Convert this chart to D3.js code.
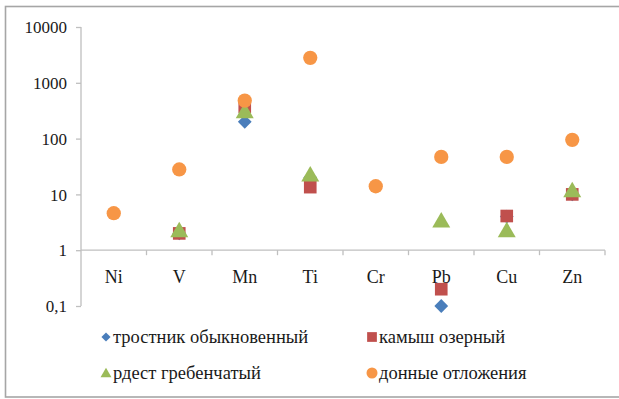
<!DOCTYPE html>
<html>
<head>
<meta charset="utf-8">
<script src="https://cdn.jsdelivr.net/npm/d3@7"></script>
<style>
  html, body { margin: 0; padding: 0; background: #fff; }
  svg { display: block; }
</style>
</head>
<body>
<svg id="chart" width="619" height="399"></svg>
<script>
// Elements on the category axis
const elements = ["Ni", "V", "Mn", "Ti", "Cr", "Pb", "Cu", "Zn"];

// Concentrations per element (null = not measured)
const trostnik = [null, 2.0, 200, 20, null, 0.1, 4.0, 10];
const kamysh   = [null, 2.0, 370, 13.5, null, 0.2, 4.1, 10];
const rdest    = [null, 2.2, 300, 22, null, 3.3, 2.2, 11.5];
const donnye   = [4.6, 28, 480, 2800, 14, 47, 47, 95];

// Y axis tick values and their labels
const yTicks = [0.1, 1, 10, 100, 1000, 10000];
const yTickLabels = ["0,1", "1", "10", "100", "1000", "10000"];

const series = [
  { name: "тростник обыкновенный", values: trostnik, color: "#4a7ebb", shape: "diamond" },
  { name: "камыш озерный", values: kamysh, color: "#c0504d", shape: "square" },
  { name: "рдест гребенчатый", values: rdest, color: "#9bbb59", shape: "triangle" },
  { name: "донные отложения", values: donnye, color: "#f79646", shape: "circle" }
];

const FONT = "'Liberation Serif', 'Times New Roman', 'Liberation Sans', Arial, sans-serif";
const TEXT_COLOR = "#1a1a1a";

const svg = d3.select("#chart");

// Outer frame
svg.append("rect")
  .attr("x", 5.5).attr("y", 6.5)
  .attr("width", 620).attr("height", 390.5)
  .attr("fill", "none").attr("stroke", "#a6a6a6").attr("stroke-width", 1.6);

const x = d3.scaleBand().domain(elements).range([81, 605]).paddingInner(0).paddingOuter(0);
const y = d3.scaleLog().domain([0.1, 10000]).range([306, 27]);

const axisColor = "#bfbfbf";

// Y axis
const yAxis = svg.append("g").attr("transform", "translate(81,0)")
  .call(d3.axisLeft(y).tickValues(yTicks).tickSize(5).tickPadding(9)
    .tickFormat((d, i) => yTickLabels[i]))
  .attr("font-family", FONT);
yAxis.select(".domain").attr("stroke", axisColor).attr("stroke-width", 1.3)
  .attr("d", `M0,${y(0.1)}V${y(10000)}`);
yAxis.selectAll(".tick line").attr("stroke", axisColor).attr("stroke-width", 1.3);
yAxis.selectAll(".tick text").attr("font-size", 17)
  .attr("fill", TEXT_COLOR).attr("dy", "0.34em");

// X axis crossing at 1
const xAxisY = y(1);
svg.append("line")
  .attr("x1", 81).attr("x2", 605).attr("y1", xAxisY).attr("y2", xAxisY)
  .attr("stroke", axisColor).attr("stroke-width", 1.3);
const boundaries = elements.map(e => x(e)).concat([x(elements[elements.length - 1]) + x.bandwidth()]).slice(1);
svg.selectAll(".xtick").data(boundaries).enter().append("line")
  .attr("x1", d => d).attr("x2", d => d)
  .attr("y1", xAxisY).attr("y2", xAxisY + 5)
  .attr("stroke", axisColor).attr("stroke-width", 1.3);
svg.selectAll(".xlabel").data(elements).enter().append("text")
  .attr("x", d => x(d) + x.bandwidth() / 2)
  .attr("y", xAxisY + 33)
  .attr("text-anchor", "middle")
  .attr("font-size", 18)
  .attr("font-family", FONT)
  .attr("fill", TEXT_COLOR)
  .text(d => d);

// Marker path generators
const symbolFor = {
  diamond: d3.symbol().type(d3.symbolSquare).size(95),
  square: d3.symbol().type(d3.symbolSquare).size(160),
  triangle: d3.symbol().type(d3.symbolTriangle).size(140),
  circle: d3.symbol().type(d3.symbolCircle).size(160)
};

function drawMarker(g, shape, color, cx, cy) {
  const p = g.append("path")
    .attr("d", symbolFor[shape]())
    .attr("fill", color);
  if (shape === "diamond") p.attr("transform", `translate(${cx},${cy}) rotate(45)`);
  else if (shape === "triangle") p.attr("transform", `translate(${cx},${cy + 1})`);
  else p.attr("transform", `translate(${cx},${cy})`);
  return p;
}

// Data points
const plot = svg.append("g");
series.forEach(s => {
  const g = plot.append("g");
  s.values.forEach((v, i) => {
    if (v == null) return;
    drawMarker(g, s.shape, s.color, x(elements[i]) + x.bandwidth() / 2, y(v));
  });
});

// Legend
const legendItems = [
  { s: series[0], lx: 106, ly: 337 },
  { s: series[1], lx: 372, ly: 337 },
  { s: series[2], lx: 106, ly: 373 },
  { s: series[3], lx: 372, ly: 373 }
];
const legend = svg.append("g");
legendItems.forEach(it => {
  const small = {
    diamond: d3.symbol().type(d3.symbolSquare).size(42),
    square: d3.symbol().type(d3.symbolSquare).size(95),
    triangle: d3.symbol().type(d3.symbolTriangle).size(52),
    circle: d3.symbol().type(d3.symbolCircle).size(95)
  }[it.s.shape];
  const p = legend.append("path").attr("d", small()).attr("fill", it.s.color);
  if (it.s.shape === "diamond") p.attr("transform", `translate(${it.lx},${it.ly}) rotate(45)`);
  else if (it.s.shape === "triangle") p.attr("transform", `translate(${it.lx},${it.ly + 1})`);
  else p.attr("transform", `translate(${it.lx},${it.ly})`);
  legend.append("text")
    .attr("x", it.lx + 7).attr("y", it.ly).attr("dy", "0.35em")
    .attr("font-size", 18.5)
    .attr("font-family", FONT)
    .attr("fill", TEXT_COLOR)
    .text(it.s.name);
});
</script>
</body>
</html>
